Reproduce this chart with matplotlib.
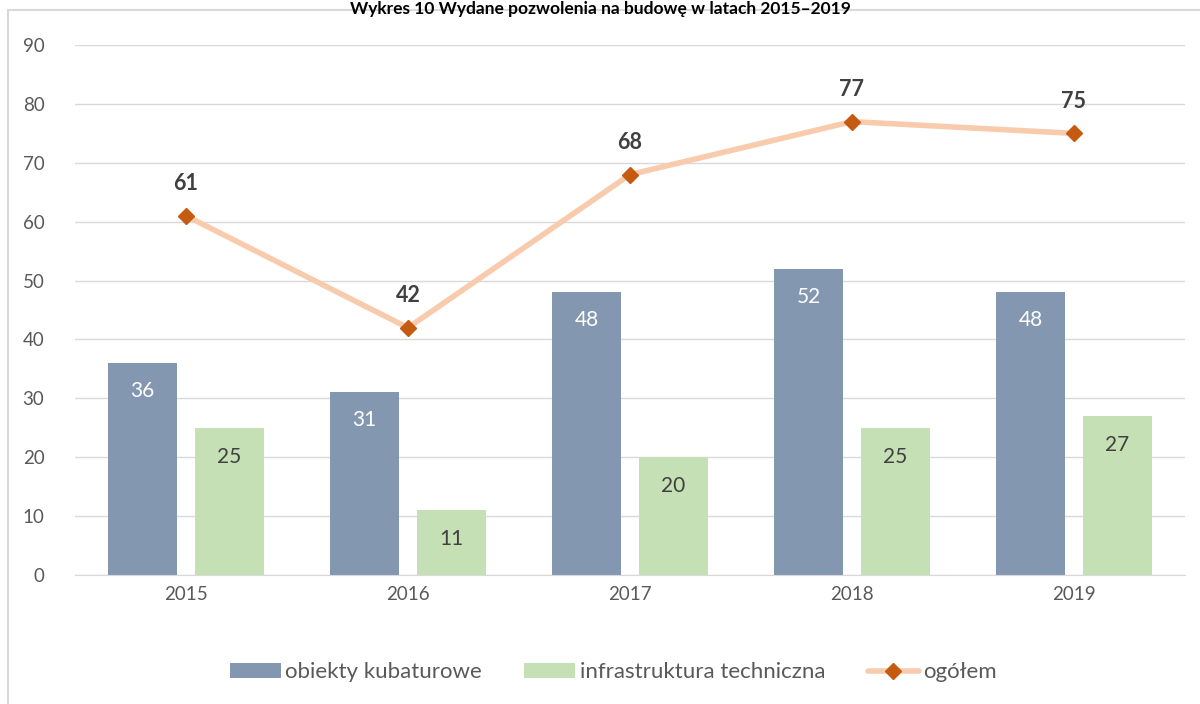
import matplotlib.pyplot as plt
import numpy as np
from matplotlib.patches import Rectangle

plt.rcParams['font.family'] = ['Lato', 'DejaVu Sans']

# Data
years = ['2015', '2016', '2017', '2018', '2019']
kubaturowe = [36, 31, 48, 52, 48]
infrastruktura = [25, 11, 20, 25, 27]
ogolem = [61, 42, 68, 77, 75]

title = "Wykres 10 Wydane pozwolenia na budowę w latach 2015–2019"

fig = plt.figure(figsize=(12, 7.04), dpi=100)
ax = fig.add_axes([0.0625, 0.1832, 0.925, 0.7528])

x = np.arange(len(years))
w = 0.31
off = 0.196

b1 = ax.bar(x - off, kubaturowe, w, color='#8497B0', zorder=2, label='obiekty kubaturowe')
b2 = ax.bar(x + off, infrastruktura, w, color='#C5E0B4', zorder=2, label='infrastruktura techniczna')
ln, = ax.plot(x, ogolem, color='#F8CBAD', lw=4, marker='D', ms=8, mfc='#C55A11', mec='#C55A11',
              zorder=3, label='ogółem', solid_capstyle='round')

for xi, v in zip(x - off, kubaturowe):
    ax.annotate(str(v), (xi, v), xytext=(0, -20), textcoords='offset points',
                ha='center', va='center', color='white', fontsize=15)
for xi, v in zip(x + off, infrastruktura):
    ax.annotate(str(v), (xi, v), xytext=(0, -21), textcoords='offset points',
                ha='center', va='center', color='#404040', fontsize=15)
for xi, v in zip(x, ogolem):
    ax.annotate(str(v), (xi, v), xytext=(0, 23), textcoords='offset points',
                ha='center', va='center', color='#404040', fontsize=15.5, fontweight='bold')

ax.set_xlim(-0.5, 4.5)
ax.set_ylim(0, 90)
ax.set_yticks(range(0, 91, 10))
ax.set_xticks(x)
ax.set_xticklabels(years)
ax.grid(axis='y', color='#D9D9D9', lw=1, zorder=0)
for s in ['top', 'right', 'left']:
    ax.spines[s].set_visible(False)
ax.spines['bottom'].set_color('#D9D9D9')
ax.tick_params(axis='both', length=0, labelsize=13.5, colors='#595959', pad=8)
ax.tick_params(axis='y', pad=22)

leg = fig.legend(handles=[b1, b2, ln], loc='center', bbox_to_anchor=(0.511, 0.045), ncol=3,
                 frameon=False, fontsize=16, handlelength=2.3, handleheight=0.63,
                 columnspacing=1.9, handletextpad=0.2)
for t in leg.get_texts():
    t.set_color('#595959')

# outer chart frame
fig.patches.append(Rectangle((8 / 1200, -0.01), 1.1, 694 / 704 + 0.01, transform=fig.transFigure,
                             fill=False, edgecolor='#D9D9D9', lw=1.5))
fig.text(0.5, 0.999, title, ha='center', va='top', fontsize=12.5, fontweight='bold', color='#000000')

fig.savefig('out.png', dpi=100)
